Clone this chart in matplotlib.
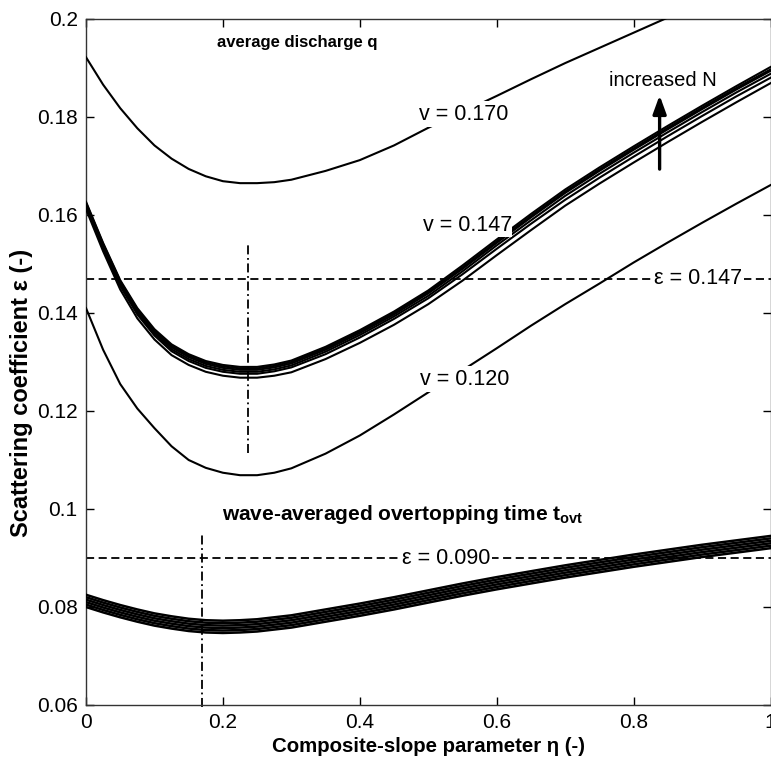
import numpy as np
import matplotlib
matplotlib.use("Agg")
import matplotlib.pyplot as plt

plt.rcParams['font.family'] = ['Liberation Sans', 'DejaVu Sans']
plt.rcParams['mathtext.fontset'] = 'custom'
plt.rcParams['mathtext.rm'] = 'Liberation Sans'
plt.rcParams['mathtext.bf'] = 'Liberation Sans:bold'

# ---------------- data ----------------
eta = [0.000, 0.025, 0.050, 0.075, 0.100, 0.125, 0.150, 0.175, 0.200, 0.225, 0.250, 0.275, 0.300,
       0.35, 0.40, 0.45, 0.50, 0.55, 0.60, 0.65, 0.70, 0.75, 0.80, 0.85, 0.90, 0.95, 1.00]

# average discharge q, v = 0.170
q_v170 = [0.1922, 0.1866, 0.1818, 0.1777, 0.1742, 0.1715, 0.1694, 0.1679, 0.1669, 0.1665, 0.1665, 0.1667, 0.1672,
          0.1690, 0.1712, 0.1742, 0.1778, 0.1810, 0.1843, 0.1877, 0.1910, 0.1941, 0.1972, 0.2003, 0.2033, 0.2063, 0.2092]

# average discharge q, v = 0.147 (increasing N: lowest -> highest)
q_v147_N1 = [0.1612, 0.1526, 0.1448, 0.1389, 0.1346, 0.1314, 0.1294, 0.1280, 0.1272, 0.1268, 0.1268, 0.1272, 0.1279,
             0.1306, 0.1339, 0.1376, 0.1418, 0.1466, 0.1518, 0.1569, 0.1619, 0.1664, 0.1707, 0.1749, 0.1790, 0.1830, 0.1869]
q_v147_N2 = [0.1619, 0.1532, 0.1455, 0.1397, 0.1354, 0.1322, 0.1302, 0.1288, 0.1280, 0.1276, 0.1276, 0.1281, 0.1289,
             0.1316, 0.1350, 0.1388, 0.1430, 0.1479, 0.1531, 0.1582, 0.1631, 0.1676, 0.1719, 0.1761, 0.1802, 0.1842, 0.1880]
q_v147_N3 = [0.1621, 0.1535, 0.1459, 0.1401, 0.1358, 0.1326, 0.1306, 0.1292, 0.1284, 0.1280, 0.1280, 0.1285, 0.1293,
             0.1321, 0.1355, 0.1393, 0.1435, 0.1485, 0.1538, 0.1589, 0.1639, 0.1684, 0.1727, 0.1769, 0.1810, 0.1850, 0.1888]
q_v147_N4 = [0.1623, 0.1538, 0.1462, 0.1404, 0.1361, 0.1330, 0.1310, 0.1296, 0.1288, 0.1284, 0.1284, 0.1289, 0.1297,
             0.1325, 0.1359, 0.1397, 0.1440, 0.1490, 0.1543, 0.1595, 0.1645, 0.1690, 0.1733, 0.1775, 0.1816, 0.1856, 0.1894]
q_v147_N5 = [0.1625, 0.1541, 0.1465, 0.1407, 0.1364, 0.1333, 0.1313, 0.1299, 0.1291, 0.1287, 0.1287, 0.1292, 0.1300,
             0.1328, 0.1362, 0.1400, 0.1443, 0.1493, 0.1546, 0.1598, 0.1648, 0.1693, 0.1736, 0.1778, 0.1819, 0.1859, 0.1897]
q_v147_N6 = [0.1627, 0.1543, 0.1467, 0.1410, 0.1367, 0.1336, 0.1316, 0.1302, 0.1294, 0.1290, 0.1290, 0.1295, 0.1303,
             0.1331, 0.1365, 0.1403, 0.1446, 0.1497, 0.1550, 0.1602, 0.1652, 0.1697, 0.1740, 0.1782, 0.1823, 0.1863, 0.1902]

# average discharge q, v = 0.120
q_v120 = [0.1410, 0.1325, 0.1255, 0.1205, 0.1165, 0.1128, 0.1100, 0.1084, 0.1074, 0.1069, 0.1069, 0.1074, 0.1083,
          0.1113, 0.1150, 0.1193, 0.1238, 0.1283, 0.1328, 0.1374, 0.1418, 0.1460, 0.1503, 0.1544, 0.1584, 0.1623, 0.1661]

# wave-averaged overtopping time t_ovt (increasing N)
t_N1 = [0.0800, 0.0789, 0.0779, 0.0770, 0.0762, 0.0756, 0.0751, 0.0748, 0.0747, 0.0748, 0.0750, 0.0754, 0.0758,
        0.0770, 0.0782, 0.0795, 0.0809, 0.0823, 0.0836, 0.0848, 0.0860, 0.0871, 0.0882, 0.0892, 0.0902, 0.0911, 0.0920]
t_N2 = [0.0805, 0.0794, 0.0784, 0.0775, 0.0767, 0.0761, 0.0756, 0.0753, 0.0752, 0.0753, 0.0755, 0.0759, 0.0763,
        0.0775, 0.0787, 0.0800, 0.0814, 0.0828, 0.0841, 0.0853, 0.0865, 0.0876, 0.0887, 0.0897, 0.0907, 0.0916, 0.0925]
t_N3 = [0.0810, 0.0799, 0.0789, 0.0780, 0.0772, 0.0766, 0.0761, 0.0758, 0.0757, 0.0758, 0.0760, 0.0764, 0.0768,
        0.0780, 0.0792, 0.0805, 0.0819, 0.0833, 0.0846, 0.0858, 0.0870, 0.0881, 0.0892, 0.0902, 0.0912, 0.0921, 0.0930]
t_N4 = [0.0815, 0.0804, 0.0794, 0.0785, 0.0777, 0.0771, 0.0766, 0.0763, 0.0762, 0.0763, 0.0765, 0.0769, 0.0773,
        0.0785, 0.0797, 0.0810, 0.0824, 0.0838, 0.0851, 0.0863, 0.0875, 0.0886, 0.0897, 0.0907, 0.0917, 0.0926, 0.0935]
t_N5 = [0.0820, 0.0809, 0.0799, 0.0790, 0.0782, 0.0776, 0.0771, 0.0768, 0.0767, 0.0768, 0.0770, 0.0774, 0.0778,
        0.0790, 0.0802, 0.0815, 0.0829, 0.0843, 0.0856, 0.0868, 0.0880, 0.0891, 0.0902, 0.0912, 0.0922, 0.0931, 0.0940]
t_N6 = [0.0825, 0.0814, 0.0804, 0.0795, 0.0787, 0.0781, 0.0776, 0.0773, 0.0772, 0.0773, 0.0775, 0.0779, 0.0783,
        0.0795, 0.0807, 0.0820, 0.0834, 0.0848, 0.0861, 0.0873, 0.0885, 0.0896, 0.0907, 0.0917, 0.0927, 0.0936, 0.0945]

eps_q = 0.147
eps_t = 0.090
eta_opt_q = 0.236
eta_opt_t = 0.170

xticks = [0, 0.2, 0.4, 0.6, 0.8, 1]
xticklabels = ['0', '0.2', '0.4', '0.6', '0.8', '1']
yticks = [0.06, 0.08, 0.1, 0.12, 0.14, 0.16, 0.18, 0.2]
yticklabels = ['0.06', '0.08', '0.1', '0.12', '0.14', '0.16', '0.18', '0.2']

# ---------------- figure ----------------
W, H = 771, 767
fig = plt.figure(figsize=(W / 100, H / 100), dpi=100)
ax = fig.add_axes([86 / W, 1 - 705 / H, (770.5 - 86) / W, (705 - 19) / H])

for series in [q_v170, q_v120, q_v147_N1, q_v147_N2, q_v147_N3, q_v147_N4, q_v147_N5, q_v147_N6]:
    ax.plot(eta, series, color='black', lw=1.5, zorder=3, solid_joinstyle='round')
for series in [t_N1, t_N2, t_N3, t_N4, t_N5, t_N6]:
    ax.plot(eta, series, color='black', lw=1.8, zorder=3, solid_joinstyle='round')

# reference lines
ax.axhline(eps_q, color='black', lw=1.3, ls=(0, (4.5, 2.5)), zorder=2)
ax.axhline(eps_t, color='black', lw=1.3, ls=(0, (4.5, 2.5)), zorder=2)
ax.plot([eta_opt_q, eta_opt_q], [0.1114, 0.1543], color='black', lw=1.3,
        ls=(0, (5, 2, 1, 2)), zorder=2)
ax.plot([eta_opt_t, eta_opt_t], [0.0595, 0.0953], color='black', lw=1.3,
        ls=(0, (5, 2, 1, 2)), zorder=2, clip_on=False)

ax.set_xlim(0, 1)
ax.set_ylim(0.06, 0.2)
ax.set_xticks(xticks)
ax.set_xticklabels(xticklabels)
ax.set_yticks(yticks)
ax.set_yticklabels(yticklabels)
ax.tick_params(direction='in', top=True, right=True, length=6, width=1,
               labelsize=15, pad=6, colors='black')
for s in ax.spines.values():
    s.set_linewidth(1.0)
    s.set_color('#333333')

ax.set_xlabel('Composite-slope parameter η (-)', fontsize=14.7, fontweight='bold', labelpad=3)
ax.set_ylabel('Scattering coefficient ε (-)', fontsize=17, fontweight='bold')
ax.yaxis.set_label_coords(-0.077, 0.455)

wb = dict(facecolor='white', edgecolor='none', pad=1.5)
ax.text(0.192, 0.1953, 'average discharge q', fontsize=12, fontweight='bold',
        ha='left', va='center', zorder=5)
ax.text(0.552, 0.1806, 'v = 0.170', fontsize=15.5, ha='center', va='center', zorder=5, bbox=wb)
ax.text(0.557, 0.1578, 'v = 0.147', fontsize=15.5, ha='center', va='center', zorder=5,
        bbox=dict(facecolor='white', edgecolor='none', pad=0.3))
ax.text(0.553, 0.1265, 'v = 0.120', fontsize=15.5, ha='center', va='center', zorder=5, bbox=wb)
ax.text(0.843, 0.1875, 'increased N', fontsize=14.5, ha='center', va='center', zorder=5)
ax.annotate('', xy=(0.838, 0.1850), xytext=(0.838, 0.1688),
            arrowprops=dict(arrowstyle='-|>,head_length=1.1,head_width=0.4',
                            color='black', lw=2.4), zorder=5)
ax.text(0.894, eps_q, 'ε = 0.147', fontsize=15.5, ha='center', va='center', zorder=5, bbox=wb)
ax.text(0.526, eps_t, 'ε = 0.090', fontsize=15.5, ha='center', va='center', zorder=5, bbox=wb)
ax.text(0.198, 0.0988, r'wave-averaged overtopping time $\mathbf{t_{ovt}}$', fontsize=15,
        fontweight='bold', ha='left', va='center', zorder=5)

fig.savefig('out.png', dpi=100)
